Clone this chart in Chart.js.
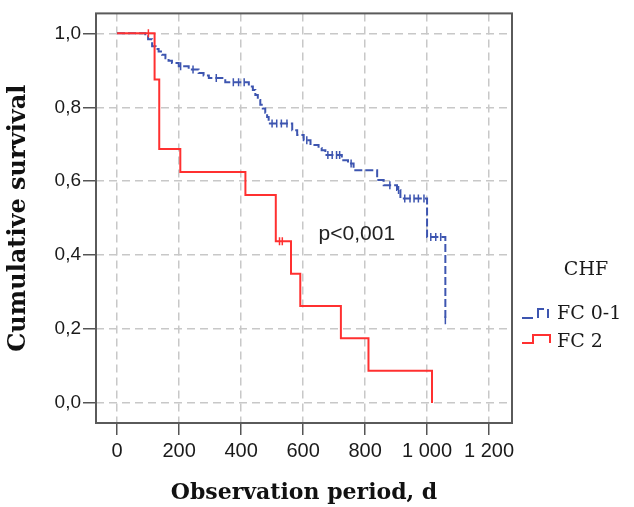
<!DOCTYPE html>
<html>
<head>
<meta charset="utf-8">
<script src="https://cdn.jsdelivr.net/npm/chart.js@4.4.1/dist/chart.umd.min.js"></script>
<style>
    html, body { margin: 0; padding: 0; background: #fff; }
    #wrap { width: 634px; height: 507px; }
</style>
</head>
<body>
<div id="wrap"><canvas id="chart" width="634" height="507"></canvas></div>
<script>
// Kaplan-Meier steps: day of the drop and survival after it
const seriesNames = ['FC 0-1', 'FC 2'];
const legendTitle = 'CHF';
const pValueText = 'p<0,001';

const fc01Days = [0, 91, 100, 113, 124, 134, 145, 156, 166, 177, 199, 231, 263, 279, 296, 349, 425, 438, 446, 454,
    462, 470, 478, 484, 489, 565, 581, 602, 624, 650, 660, 672, 725, 745, 763, 839, 860, 903, 914, 1000, 1059];
const fc01Surv = [1, 0.992, 0.984, 0.965, 0.958, 0.951, 0.942, 0.933, 0.926, 0.920, 0.911, 0.902, 0.893, 0.886, 0.879, 0.868, 0.856, 0.847, 0.833, 0.820,
    0.807, 0.797, 0.785, 0.774, 0.756, 0.738, 0.725, 0.711, 0.698, 0.690, 0.684, 0.671, 0.657, 0.648, 0.630, 0.603, 0.589, 0.576, 0.553, 0.449, 0.224];
const fc01CensorDays = [205, 245, 320, 375, 392, 410, 500, 515, 530, 548, 612, 680, 694, 708, 718, 755, 880, 908, 928, 945, 958, 972, 990, 1012, 1028, 1044, 1059];
const fc01CensorSurv = [0.911, 0.902, 0.879, 0.868, 0.868, 0.868, 0.756, 0.756, 0.756, 0.756, 0.711, 0.671, 0.671, 0.671, 0.671, 0.648, 0.589, 0.576, 0.553, 0.553, 0.553, 0.553, 0.553, 0.449, 0.449, 0.449, 0.224];

const fc2Days = [0, 121, 136, 204, 414, 512, 561, 591, 722, 811, 1016];
const fc2Surv = [1, 0.875, 0.6875, 0.625, 0.5625, 0.4375, 0.35, 0.2625, 0.175, 0.0875, 0];
const fc2CensorDays = [101, 524, 533];
const fc2CensorSurv = [1, 0.4375, 0.4375];

const xTicks = [0, 200, 400, 600, 800, 1000, 1200];
const yTicks = [0, 0.2, 0.4, 0.6, 0.8, 1.0];

const blue = '#3d55b0';
const red = '#ff3030';

function points(xs, ys) {
    return xs.map((x, i) => ({x: x, y: ys[i]}));
}

function fmtThousands(v) {
    return String(v).replace(/\B(?=(\d{3})+(?!\d))/g, ' ');
}

// frame, p value and the step-shaped legend
const decorations = {
    id: 'decorations',
    afterDraw(chart) {
        const ctx = chart.ctx;
        const a = chart.chartArea;
        const sx = chart.scales.x, sy = chart.scales.y;
        ctx.save();
        ctx.strokeStyle = '#5a5a5a';
        ctx.lineWidth = 2;
        ctx.strokeRect(a.left, a.top, a.right - a.left, a.bottom - a.top);

        ctx.fillStyle = '#222';
        ctx.font = '21px "Liberation Sans", Arial, sans-serif';
        ctx.textBaseline = 'alphabetic';
        ctx.fillText(pValueText, sx.getPixelForValue(650), sy.getPixelForValue(0.44));

        ctx.font = '19px "DejaVu Serif", serif';
        ctx.fillStyle = '#1a1a1a';
        ctx.textAlign = 'center';
        ctx.fillText(legendTitle, 586, 275);
        ctx.textAlign = 'left';
        ctx.fillText(seriesNames[0], 557, 319);
        ctx.fillText(seriesNames[1], 557, 347);

        ctx.lineWidth = 2;
        ctx.strokeStyle = blue;
        ctx.beginPath();
        ctx.moveTo(522, 318); ctx.lineTo(533, 318);
        ctx.moveTo(538, 318); ctx.lineTo(538, 309); ctx.lineTo(544, 309);
        ctx.moveTo(548, 309); ctx.lineTo(548, 318);
        ctx.stroke();

        ctx.strokeStyle = red;
        ctx.beginPath();
        ctx.moveTo(522, 343); ctx.lineTo(533, 343); ctx.lineTo(533, 335);
        ctx.lineTo(550, 335); ctx.lineTo(550, 343);
        ctx.stroke();
        ctx.restore();
    }
};

const ctx = document.getElementById('chart').getContext('2d');
new Chart(ctx, {
    type: 'line',
    data: {
        datasets: [
            {
                label: seriesNames[1],
                data: points(fc2Days, fc2Surv),
                borderColor: red,
                borderWidth: 2,
                stepped: 'before',
                pointRadius: 0,
                fill: false,
                order: 0
            },
            {
                label: seriesNames[1] + ' censored',
                data: points(fc2CensorDays, fc2CensorSurv),
                showLine: false,
                pointStyle: 'line',
                rotation: 90,
                pointRadius: 4,
                borderColor: red,
                borderWidth: 1.5,
                order: 0
            },
            {
                label: seriesNames[0],
                data: points(fc01Days, fc01Surv),
                borderColor: blue,
                borderWidth: 2,
                borderDash: [8, 3],
                stepped: 'before',
                pointRadius: 0,
                fill: false,
                order: 1
            },
            {
                label: seriesNames[0] + ' censored',
                data: points(fc01CensorDays, fc01CensorSurv),
                showLine: false,
                pointStyle: 'line',
                rotation: 90,
                pointRadius: 4,
                borderColor: blue,
                borderWidth: 1.5,
                order: 1
            }
        ]
    },
    options: {
        responsive: false,
        animation: false,
        layout: { padding: { top: 13, right: 122, bottom: 0, left: 0 } },
        plugins: {
            legend: { display: false },
            tooltip: { enabled: false }
        },
        scales: {
            x: {
                type: 'linear',
                min: -68,
                max: 1274,
                afterBuildTicks: s => { s.ticks = xTicks.map(v => ({value: v})); },
                afterFit: s => { s.height = 84; },
                ticks: {
                    includeBounds: false,
                    maxRotation: 0,
                    autoSkip: false,
                    padding: 4,
                    color: '#1a1a1a',
                    font: { family: '"Liberation Sans", Arial, sans-serif', size: 20 },
                    callback: v => fmtThousands(v)
                },
                grid: {
                    color: '#c8c8c8',
                    lineWidth: 1.5,
                    tickLength: 12,
                    tickColor: '#555',
                    tickWidth: 1.5,
                    tickBorderDash: [20, 0]
                },
                border: { display: false, dash: [8, 5] },
                title: {
                    display: true,
                    text: 'Observation period, d',
                    color: '#111',
                    font: { family: '"DejaVu Serif", serif', size: 22, weight: 'bold' },
                    padding: { top: 0, bottom: 1 }
                }
            },
            y: {
                type: 'linear',
                min: -0.054,
                max: 1.054,
                afterBuildTicks: s => { s.ticks = yTicks.map(v => ({value: v})); },
                afterFit: s => { s.width = 96; },
                ticks: {
                    includeBounds: false,
                    padding: 2,
                    color: '#1a1a1a',
                    font: { family: '"Liberation Sans", Arial, sans-serif', size: 19 },
                    callback: v => v.toFixed(1).replace('.', ',')
                },
                grid: {
                    color: '#c8c8c8',
                    lineWidth: 1.5,
                    tickLength: 13,
                    tickColor: '#555',
                    tickWidth: 1.5,
                    tickBorderDash: [20, 0]
                },
                border: { display: false, dash: [8, 5] },
                title: {
                    display: true,
                    text: 'Cumulative survival',
                    color: '#111',
                    font: { family: '"DejaVu Serif", serif', size: 24, weight: 'bold' },
                    padding: { top: 4, bottom: 0 }
                }
            }
        }
    },
    plugins: [decorations]
});
</script>
</body>
</html>
